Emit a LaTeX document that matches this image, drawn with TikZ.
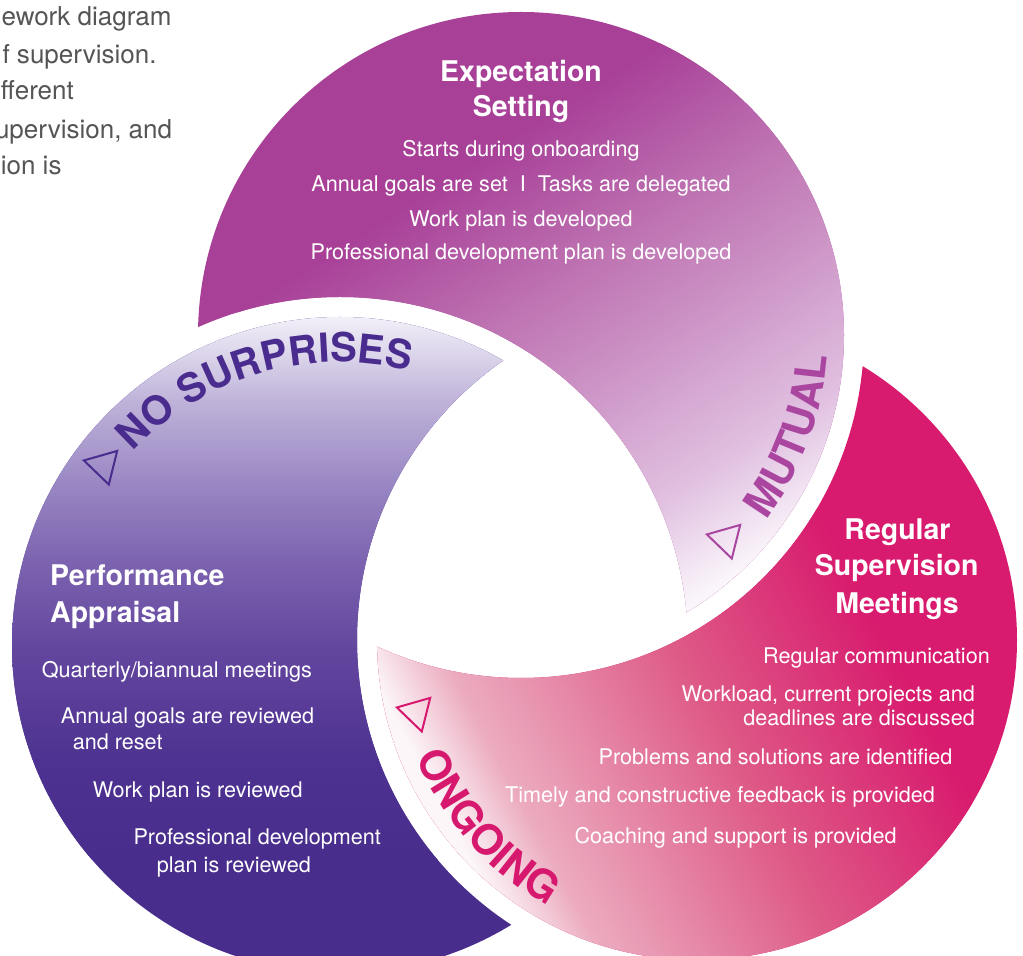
\documentclass[tikz,border=0pt]{standalone}
\usepackage{fontspec}
\setmainfont{TeX Gyre Heros}
\usetikzlibrary{decorations.text,shapes.geometric}
% top lobe colours
\definecolor{tA}{RGB}{168,64,152}
\definecolor{tB}{RGB}{190,115,178}
\definecolor{tC}{RGB}{203,145,196}
\definecolor{tD}{RGB}{225,193,225}
\definecolor{tE}{RGB}{250,245,250}
% right lobe colours
\definecolor{rA}{RGB}{252,246,248}
\definecolor{rB}{RGB}{236,172,192}
\definecolor{rC}{RGB}{222,90,135}
\definecolor{rD}{RGB}{216,27,110}
% left lobe colours
\definecolor{lA}{RGB}{242,240,248}
\definecolor{lB}{RGB}{192,180,218}
\definecolor{lC}{RGB}{155,137,196}
\definecolor{lD}{RGB}{125,100,176}
\definecolor{lE}{RGB}{98,70,158}
\definecolor{lF}{RGB}{78,50,145}
\definecolor{lG}{RGB}{72,45,140}
% label colours
\definecolor{nscol}{RGB}{74,44,143}
\definecolor{mutcol}{RGB}{170,70,160}
\definecolor{ongcol}{RGB}{214,24,110}
\definecolor{grtext}{RGB}{85,85,85}
\newcommand\itemfont{\fontsize{21.6}{26}\selectfont}
\newcommand\ttlfont{\fontsize{28.5}{34}\selectfont\bfseries}
\newcommand\grfont{\fontsize{26}{30}\selectfont}
\newcommand\arcfont{\fontsize{42}{42}\selectfont\bfseries}
\newcommand\nsfont{\fontsize{40}{40}\selectfont\bfseries}
\tikzset{
  item/.style={text=white, inner sep=0pt, font=\itemfont},
  ttl/.style={text=white, inner sep=0pt, font=\ttlfont},
  grayline/.style={text=grtext, inner sep=0pt, font=\grfont, anchor=base east},
  tri/.style={regular polygon, regular polygon sides=3, shape border rotate=-44,
    minimum size=40pt, inner sep=0pt, draw, line width=2pt},
  outside/.style={insert path={(-300,-300) -- (-300,1300) -- (1400,1300) -- (1400,-300) -- cycle}}
}
\begin{document}
\begin{tikzpicture}[x=1pt,y=1pt]
\useasboundingbox (0,0) rectangle (1023,956);
\fill[white] (0,0) rectangle (1023,956);
\coordinate (T) at (521,621);
\coordinate (BL) at (340,311);
\coordinate (BR) at (697,316);

% ---------- top lobe ----------
\begin{scope}
  \clip[outside] (BL) circle[radius=348];
  \clip (T) circle[radius=323];
  \fill[tA] (0,0) rectangle (1023,956);
  \begin{scope}[transform canvas={shift={(430,766)},rotate=-57.6}]
    \shade[left color=tA, right color=tB] (0,-800) rectangle (146.7,800);
    \shade[left color=tB, right color=tC] (145.7,-800) rectangle (243.8,800);
    \shade[left color=tC, right color=tD] (242.8,-800) rectangle (389.4,800);
    \shade[left color=tD, right color=tE] (388.4,-800) rectangle (486.5,800);
    \fill[tE] (485.5,-800) rectangle (1200,800);
  \end{scope}
\end{scope}

% ---------- right lobe ----------
\begin{scope}
  \clip[outside] (T) circle[radius=343];
  \clip (BR) circle[radius=320];
  \fill[rD] (0,0) rectangle (1023,956);
  \begin{scope}[transform canvas={shift={(385,256)},rotate=28}]
    \fill[rA] (-600,-800) rectangle (1,800);
    \shade[left color=rA, right color=rB] (0,-800) rectangle (71,800);
    \shade[left color=rB, right color=rC] (70,-800) rectangle (281,800);
    \shade[left color=rC, right color=rD] (280,-800) rectangle (471,800);
  \end{scope}
\end{scope}

% ---------- left lobe ----------
\begin{scope}
  \clip[outside] (BR) circle[radius=340];
  \clip (BL) circle[radius=328];
  \fill[lG] (0,0) rectangle (700,700);
  \fill[lA] (0,639) rectangle (700,700);
  \shade[top color=lA, bottom color=lB] (0,556) rectangle (700,640);
  \shade[top color=lB, bottom color=lC] (0,476) rectangle (700,557);
  \shade[top color=lC, bottom color=lD] (0,396) rectangle (700,477);
  \shade[top color=lD, bottom color=lE] (0,306) rectangle (700,397);
  \shade[top color=lE, bottom color=lF] (0,196) rectangle (700,307);
  \shade[top color=lF, bottom color=lG] (0,96) rectangle (700,197);
\end{scope}

% ---------- gray text, top left ----------
\node[grayline] (g1) at (171.7,930) {ework diagram};
\node[grayline] (g2) at (156.7,892.7) {f supervision.};
\node[grayline] (g3) at (74,856) {fferent};
\node[grayline] (g4) at (172.3,817.7) {upervision, and};
\node[grayline] (g5) at (61.7,781) {ion is};

% ---------- top lobe text ----------
\node[ttl, anchor=base] (et1) at (521,874.3) {Expectation};
\node[ttl, anchor=base] (et2) at (521,839.7) {Setting};
\node[item, anchor=base] (e1) at (521,799) {Starts during onboarding};
\node[item, anchor=base] (e2) at (521,764.3) {Annual goals are set~~I~~Tasks are delegated};
\node[item, anchor=base] (e3) at (521,729.3) {Work plan is developed};
\node[item, anchor=base] (e4) at (521,696) {Professional development plan is developed};

% ---------- left lobe text ----------
\node[ttl, anchor=base west] (pt1) at (50,370) {Performance};
\node[ttl, anchor=base west] (pt2) at (50,333.3) {Appraisal};
\node[item, anchor=base west] (p1) at (41.7,278.7) {Quarterly/biannual meetings};
\node[item, anchor=base west] (p2) at (60.7,232.7) {Annual goals are reviewed};
\node[item, anchor=base west] (p3) at (72.7,206) {and reset};
\node[item, anchor=base west] (p4) at (92.7,158.3) {Work plan is reviewed};
\node[item, anchor=base west] (p5) at (133.3,111) {Professional development};
\node[item, anchor=base west] (p6) at (156.7,83.7) {plan is reviewed};

% ---------- right lobe text ----------
\node[ttl, anchor=base] (rt1) at (897.5,416.7) {Regular};
\node[ttl, anchor=base] (rt2) at (896.7,380) {Supervision};
\node[ttl, anchor=base] (rt3) at (897,342) {Meetings};
\node[item, anchor=base east] (r1) at (990,292.7) {Regular communication};
\node[item, anchor=base east] (r2) at (975,254.3) {Workload, current projects and};
\node[item, anchor=base east] (r3) at (975,230.3) {deadlines are discussed};
\node[item, anchor=base east] (r4) at (952.7,191.7) {Problems and solutions are identified};
\node[item, anchor=base east] (r5) at (935,153.3) {Timely and constructive feedback is provided};
\node[item, anchor=base east] (r6) at (896.7,112.7) {Coaching and support is provided};

% ---------- curved labels ----------
\path[decorate, decoration={text along path, text color=nscol,
    text={|\nsfont|NO SURPRISES}}]
  (BL) ++(137:283) arc[start angle=137, end angle=30, radius=283];
\path[decorate, decoration={text along path, text color=mutcol,
    text={|\arcfont|MUTUAL}}]
  (T) ++(-37:307) arc[start angle=-37, end angle=30, radius=307];
\path[decorate, decoration={text along path, text color=ongcol,
    text={|\arcfont|ONGOING}}]
  (BR) ++(202.6:305) arc[start angle=202.6, end angle=270, radius=305];

% ---------- triangles ----------
\node[tri, draw=nscol] (tri1) at (103.3,490.7) {};
\node[tri, draw=mutcol] (tri2) at (726.3,416.7) {};
\node[tri, draw=ongcol] (tri3) at (416.3,243.7) {};
\end{tikzpicture}
\end{document}
